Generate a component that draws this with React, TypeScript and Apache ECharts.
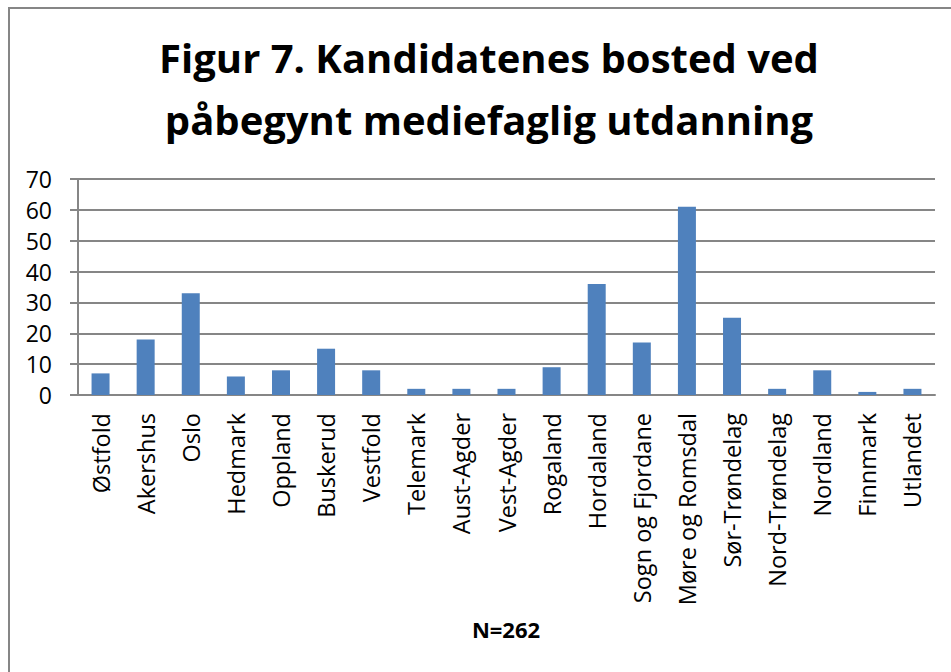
import React, { useEffect, useRef } from "react";
import * as echarts from "echarts";

const categories = [
  "Østfold", "Akershus", "Oslo", "Hedmark", "Oppland", "Buskerud", "Vestfold",
  "Telemark", "Aust-Agder", "Vest-Agder", "Rogaland", "Hordaland",
  "Sogn og Fjordane", "Møre og Romsdal", "Sør-Trøndelag", "Nord-Trøndelag",
  "Nordland", "Finnmark", "Utlandet",
];
const values = [7, 18, 33, 6, 8, 15, 8, 2, 2, 2, 9, 36, 17, 61, 25, 2, 8, 1, 2];
const yTicks = { min: 0, max: 70, interval: 10 };
const titleText = "Figur 7. Kandidatenes bosted ved\npåbegynt mediefaglig utdanning";
const noteText = "N=262";

export default function App() {
  const ref = useRef<HTMLDivElement>(null);
  useEffect(() => {
    if (!ref.current) return;
    const chart = echarts.init(ref.current, undefined, { renderer: "svg" });
    chart.setOption({
      animation: false,
      backgroundColor: "#ffffff",
      title: {
        text: titleText,
        left: 489,
        top: 26,
        textAlign: "center",
        padding: 0,
        textStyle: {
          fontFamily: "Open Sans",
          fontWeight: "bold",
          fontSize: 40,
          lineHeight: 62,
          color: "#000000",
        },
      },
      graphic: [
        {
          type: "rect",
          shape: { x: 9, y: 8, width: 1200, height: 1200 },
          style: { fill: "none", stroke: "#868686", lineWidth: 2 },
          silent: true,
        },
        {
          type: "text",
          x: 506,
          y: 629,
          style: {
            text: noteText,
            fontFamily: "Open Sans",
            fontWeight: "bold",
            fontSize: 22,
            fill: "#000000",
            textAlign: "center",
            textVerticalAlign: "middle",
          },
        },
      ],
      grid: { left: 78, right: 16, top: 179, bottom: 277, containLabel: false },
      xAxis: {
        type: "category",
        data: categories,
        axisLine: { lineStyle: { color: "#868686", width: 2 } },
        axisTick: { show: false },
        axisLabel: {
          interval: 0,
          rotate: 90,
          margin: 18,
          fontFamily: "Open Sans",
          fontSize: 23.5,
          color: "#000000",
        },
      },
      yAxis: {
        type: "value",
        min: yTicks.min,
        max: yTicks.max,
        interval: yTicks.interval,
        axisLine: { show: true, lineStyle: { color: "#868686", width: 2 } },
        axisTick: { show: true, length: 8, lineStyle: { color: "#868686", width: 2 } },
        splitLine: { lineStyle: { color: "#868686", width: 2 } },
        axisLabel: {
          margin: 26,
          fontFamily: "Open Sans",
          fontSize: 23,
          color: "#000000",
        },
      },
      series: [
        {
          type: "bar",
          data: values,
          barWidth: 18,
          itemStyle: { color: "#4F81BD" },
        },
      ],
    });
    return () => chart.dispose();
  }, []);
  return (
    <div
      ref={ref}
      style={{ position: "fixed", left: 0, top: 0, width: 951, height: 672 }}
    />
  );
}
